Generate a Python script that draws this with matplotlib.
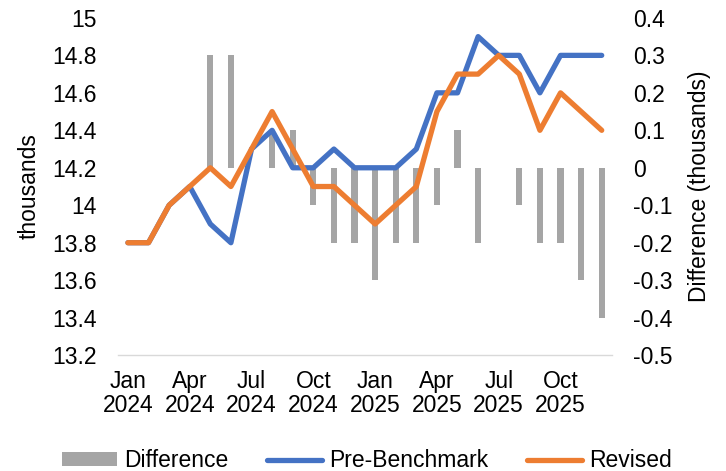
import matplotlib
matplotlib.use("Agg")
import matplotlib.pyplot as plt
from matplotlib.patches import Patch
from matplotlib.lines import Line2D
import numpy as np

plt.rcParams['font.family'] = ['Liberation Sans', 'DejaVu Sans']

months = ["Jan 2024", "Feb 2024", "Mar 2024", "Apr 2024", "May 2024", "Jun 2024",
          "Jul 2024", "Aug 2024", "Sep 2024", "Oct 2024", "Nov 2024", "Dec 2024",
          "Jan 2025", "Feb 2025", "Mar 2025", "Apr 2025", "May 2025", "Jun 2025",
          "Jul 2025", "Aug 2025", "Sep 2025", "Oct 2025", "Nov 2025", "Dec 2025"]
pre_benchmark = [13.8, 13.8, 14.0, 14.1, 13.9, 13.8, 14.3, 14.4, 14.2, 14.2, 14.3, 14.2,
                 14.2, 14.2, 14.3, 14.6, 14.6, 14.9, 14.8, 14.8, 14.6, 14.8, 14.8, 14.8]
revised = [13.8, 13.8, 14.0, 14.1, 14.2, 14.1, 14.3, 14.5, 14.3, 14.1, 14.1, 14.0,
           13.9, 14.0, 14.1, 14.5, 14.7, 14.7, 14.8, 14.7, 14.4, 14.6, 14.5, 14.4]
difference = [0.0, 0.0, 0.0, 0.0, 0.3, 0.3, 0.0, 0.1, 0.1, -0.1, -0.2, -0.2,
              -0.3, -0.2, -0.2, -0.1, 0.1, -0.2, 0.0, -0.1, -0.2, -0.2, -0.3, -0.4]
tick_labels = ["Jan\n2024", "Apr\n2024", "Jul\n2024", "Oct\n2024",
               "Jan\n2025", "Apr\n2025", "Jul\n2025", "Oct\n2025"]

BLUE = "#4472C4"
ORANGE = "#ED7D31"
GREY = "#A5A5A5"
FS = 16.5
LW = 3.8

fig = plt.figure(figsize=(7.26, 4.71), dpi=100)
ax = fig.add_axes([0.162, 0.246, 0.681, 0.716])
ax2 = ax.twinx()

x = np.arange(len(months))

# difference bars on the secondary axis, drawn behind the lines
ax2.bar(x, difference, width=0.3, color=GREY, zorder=1)
ax2.set_ylim(-0.5, 0.4)
ax2.set_yticks(np.round(np.arange(-0.5, 0.41, 0.1), 1))
ax2.set_yticklabels(["-0.5", "-0.4", "-0.3", "-0.2", "-0.1", "0", "0.1", "0.2", "0.3", "0.4"])
ax2.set_ylabel("Difference (thousands)", fontsize=FS, labelpad=11)

ax.set_zorder(ax2.get_zorder() + 1)
ax.patch.set_visible(False)
ax.plot(x, pre_benchmark, color=BLUE, lw=LW, solid_capstyle='round', solid_joinstyle='round')
ax.plot(x, revised, color=ORANGE, lw=LW, solid_capstyle='round', solid_joinstyle='round')
ax.set_ylim(13.2, 15.0)
ax.set_yticks(np.round(np.arange(13.2, 15.01, 0.2), 1))
ax.set_yticklabels(["13.2", "13.4", "13.6", "13.8", "14", "14.2", "14.4", "14.6", "14.8", "15"])
ax.set_ylabel("thousands", fontsize=FS, labelpad=8)
ax.set_xlim(-0.5, len(months) - 0.5)
ax.set_xticks(x[::3])
ax.set_xticklabels(tick_labels, linespacing=1.05)

for a in (ax, ax2):
    for s in a.spines.values():
        s.set_visible(False)
    a.tick_params(axis='both', length=0, labelsize=FS)
ax.spines['bottom'].set_visible(True)
ax.spines['bottom'].set_color('#D9D9D9')
ax.spines['bottom'].set_linewidth(1)
ax.tick_params(axis='y', pad=15)
ax2.tick_params(axis='y', pad=15)
ax.tick_params(axis='x', pad=11)

handles = [Patch(facecolor=GREY, edgecolor='none'),
           Line2D([0], [0], color=BLUE, lw=LW, solid_capstyle='round'),
           Line2D([0], [0], color=ORANGE, lw=LW, solid_capstyle='round')]
fig.legend(handles, ["Difference", "Pre-Benchmark", "Revised"], loc='center',
           bbox_to_anchor=(0.505, 0.022), ncol=3, frameon=False, fontsize=FS,
           handlelength=2.4, handleheight=0.5, handletextpad=0.3, columnspacing=1.7,
           borderpad=0)

fig.savefig("out.png", dpi=100)
